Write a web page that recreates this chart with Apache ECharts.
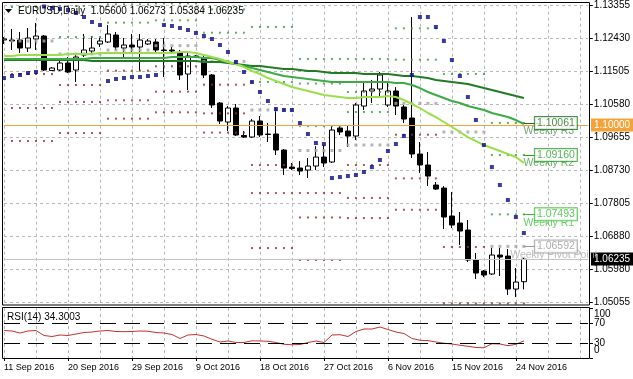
<!DOCTYPE html>
<html><head><meta charset="utf-8">
<script src="https://cdn.jsdelivr.net/npm/echarts@6/dist/echarts.min.js"></script>
<style>html,body{margin:0;padding:0;background:#fff}#c{width:633px;height:379px}</style>
</head><body><div id="c"></div>
<script>
const dates = [
'2016.09.11','2016.09.12','2016.09.13','2016.09.14','2016.09.15','2016.09.16',
'2016.09.18','2016.09.19','2016.09.20','2016.09.21','2016.09.22','2016.09.23',
'2016.09.25','2016.09.26','2016.09.27','2016.09.28','2016.09.29','2016.09.30',
'2016.10.02','2016.10.03','2016.10.04','2016.10.05','2016.10.06','2016.10.07',
'2016.10.09','2016.10.10','2016.10.11','2016.10.12','2016.10.13','2016.10.14',
'2016.10.16','2016.10.17','2016.10.18','2016.10.19','2016.10.20','2016.10.21',
'2016.10.23','2016.10.24','2016.10.25','2016.10.26','2016.10.27','2016.10.28',
'2016.10.30','2016.10.31','2016.11.01','2016.11.02','2016.11.03','2016.11.04',
'2016.11.06','2016.11.07','2016.11.08','2016.11.09','2016.11.10','2016.11.11',
'2016.11.13','2016.11.14','2016.11.15','2016.11.16','2016.11.17','2016.11.18',
'2016.11.20','2016.11.21','2016.11.22','2016.11.23','2016.11.24','2016.11.25'];

// [open, high, low, close]
const ohlc = [
[1.12391,1.12475,1.12279,1.12419],[1.12391,1.12700,1.12110,1.12363],[1.12391,1.12616,1.12026,1.12166],
[1.12166,1.12728,1.12054,1.12447],[1.12419,1.12869,1.12110,1.12503],[1.12503,1.12531,1.11520,1.11548],
[1.11534,1.11632,1.11520,1.11604],[1.11548,1.11857,1.11520,1.11745],[1.11745,1.11913,1.11464,1.11492],
[1.11548,1.11970,1.11211,1.11913],[1.11970,1.12560,1.11913,1.12110],[1.12082,1.12503,1.11970,1.12166],
[1.12279,1.12447,1.12194,1.12363],[1.12335,1.12812,1.12307,1.12560],[1.12531,1.12616,1.12110,1.12194],
[1.12166,1.12447,1.11885,1.12251],[1.12251,1.12560,1.12026,1.12194],[1.12194,1.12560,1.11520,1.12391],
[1.12279,1.12419,1.12251,1.12363],[1.12335,1.12419,1.12054,1.12110],[1.12110,1.12447,1.11351,1.12096],
[1.12110,1.12194,1.11998,1.12082],[1.12026,1.12110,1.11267,1.11408],[1.11436,1.12026,1.10986,1.11941],
[1.11913,1.11970,1.11885,1.11941],[1.11885,1.11970,1.11323,1.11408],[1.11408,1.11436,1.10480,1.10565],
[1.10621,1.10649,1.10031,1.10115],[1.10087,1.10536,1.09834,1.10480],[1.10480,1.10593,1.09693,1.09722],
[1.09708,1.09834,1.09637,1.09665],[1.09665,1.10171,1.09637,1.10115],[1.10115,1.10255,1.09665,1.09722],
[1.09750,1.10059,1.09525,1.09736],[1.09750,1.10480,1.09160,1.09300],[1.09300,1.09328,1.08598,1.08794],
[1.08822,1.08935,1.08738,1.08780],[1.08794,1.08991,1.08598,1.08710],[1.08738,1.09075,1.08513,1.08850],
[1.08850,1.09412,1.08738,1.09103],[1.09103,1.09440,1.08822,1.08935],[1.08963,1.10003,1.08935,1.09862],
[1.09918,1.09975,1.09722,1.09806],[1.09834,1.10003,1.09384,1.09693],[1.09693,1.10621,1.09581,1.10565],
[1.10536,1.11211,1.10424,1.10958],[1.10958,1.11267,1.10621,1.11014],[1.11014,1.11492,1.10817,1.11408],
[1.10565,1.11183,1.10508,1.10958],[1.10958,1.11068,1.10284,1.10536],[1.10508,1.10565,1.10059,1.10171],
[1.10199,1.13037,1.09075,1.09188],[1.09188,1.09525,1.08654,1.08879],[1.08879,1.09244,1.08288,1.08569],
[1.08317,1.08401,1.08176,1.08204],[1.08232,1.08288,1.07080,1.07417],[1.07445,1.08120,1.07108,1.07193],
[1.07249,1.07558,1.06631,1.07024],[1.07052,1.07333,1.06153,1.06209],[1.06209,1.06406,1.05675,1.05844],
[1.05900,1.05928,1.05731,1.05788],[1.05816,1.06546,1.05788,1.06350],[1.06350,1.06546,1.05759,1.06293],
[1.06321,1.06518,1.05226,1.05394],[1.05394,1.05984,1.05169,1.05591],[1.05600,1.06273,1.05384,1.06235]];

const maFast = [1.11941,1.11941,1.11970,1.11970,1.11970,1.11970,1.11970,1.11970,1.11998,1.11998,
1.11998,1.11998,1.12026,1.12026,1.12026,1.12026,1.12026,1.12026,1.12026,1.12026,
1.12026,1.12026,1.12054,1.12054,1.12026,1.11970,1.11913,1.11857,1.11773,1.11717,
1.11632,1.11520,1.11436,1.11323,1.11239,1.11155,1.11070,1.11014,1.10958,1.10902,
1.10846,1.10817,1.10789,1.10761,1.10761,1.10789,1.10789,1.10789,1.10817,1.10789,
1.10705,1.10593,1.10480,1.10340,1.10227,1.10087,1.09948,1.09806,1.09665,1.09553,
1.09440,1.09356,1.09272,1.09188,1.09103,1.08935];

const maMid = [1.11857,1.11857,1.11857,1.11857,1.11857,1.11857,1.11857,1.11857,1.11857,1.11857,1.11857,
1.11885,1.11885,1.11885,1.11885,1.11885,1.11885,1.11885,1.11885,1.11885,1.11885,
1.11913,1.11913,1.11913,1.11913,
1.11885,1.11885,1.11829,1.11773,1.11717,1.11661,1.11604,1.11548,1.11492,1.11436,1.11379,1.11351,1.11323,1.11295,1.11267,1.11239,
1.11211,1.11211,1.11211,1.11211,1.11211,1.11211,1.11211,1.11211,
1.11183,1.11183,1.11127,1.11042,1.10930,1.10846,1.10761,1.10677,1.10621,1.10536,1.10480,1.10424,1.10340,1.10284,1.10227,1.10143,1.10031];

const maSlow = [1.11829,1.11829,1.11829,1.11829,1.11829,1.11829,1.11829,1.11829,1.11829,1.11829,1.11829,
1.11801,1.11801,1.11801,1.11801,1.11801,1.11801,1.11801,1.11801,1.11801,1.11801,1.11801,1.11801,1.11801,1.11801,
1.11773,1.11773,1.11773,
1.11745,1.11717,1.11689,1.11661,1.11661,1.11632,1.11604,1.11576,1.11576,1.11548,1.11520,1.11520,1.11492,
1.11464,1.11464,1.11464,1.11464,1.11436,1.11436,1.11436,1.11436,
1.11408,1.11379,1.11379,1.11351,1.11323,1.11267,1.11239,1.11211,1.11183,1.11155,1.11098,1.11042,1.10986,1.10930,1.10874,1.10817,1.10761];

const sar = [1.11323,1.11379,1.11408,1.11464,1.11492,1.13332,1.13290,1.13262,1.13234,1.13150,
1.13037,1.12897,1.12812,1.11239,1.11295,1.11323,1.11351,1.11351,1.11379,1.11408,
1.12812,1.12784,1.12728,1.12672,1.12588,1.12503,1.12419,1.12251,1.12054,1.11773,
1.11492,1.11211,1.10930,1.10677,1.10452,1.10424,1.10424,1.10059,1.09750,1.09497,
1.09469,1.08513,1.08541,1.08569,1.08598,1.08682,1.08822,1.09019,1.09272,1.09469,
1.09693,1.11408,1.13037,1.13037,1.12756,1.12363,1.11829,1.11379,1.10789,1.10143,
1.09440,1.08822,1.08317,1.07895,1.07417,1.06968];

const rsi = [55,54,50,54,55,45,43,46,45,48,
51,52,54,55,53,52.6,53,54,53.5,51,
50,47,39,46,47,44,37.5,32,34,31,
31,34.5,34,33.5,31,27.5,26.5,27,31,34,
31,46,46.6,43,53,58,58,62,57,52,
49,39,35.5,34.8,32,29.5,28,25.5,23.5,21,
20.5,28.6,28,24.6,27.5,34.3003];

// weekly pivot groups (bar index ranges)
const weekStart = [1,7,13,19,25,31,37,43,49,55,61];
const weekEnd   = [6,12,18,24,30,36,42,48,54,60,65];
const pivotP  = [1.12363,1.11998,1.12110,1.12232,1.11791,1.10424,1.09286,1.09441,1.10611,1.09806,1.06592];
const pivotR1 = [1.13319,1.12476,1.12879,1.12944,1.12596,1.11211,1.09974,1.10369,1.11838,1.11436,1.07493];
const pivotR2 = [null,1.13347,1.13394,1.13420,1.13252,1.12757,1.11168,1.10931,1.12719,null,1.09160];
const pivotR3 = [null,null,null,null,null,null,1.11856,1.11859,null,null,1.10061];
const pivotS1 = [1.11436,1.11127,1.11530,1.11652,1.11135,1.08878,1.08092,1.08879,1.09730,1.06575,1.04990];
const pivotS2 = [1.10480,1.10649,1.10696,1.10940,1.10330,1.08091,1.07404,1.07951,1.08503,1.04990,null];
const pivotS3 = [1.09553,1.09778,1.10181,1.10360,1.09790,1.06545,1.06210,1.07389,1.07622,null,null];

const priceTickLabels = ['1.05055','1.05980','1.06880','1.07805','1.08730','1.09655','1.10580','1.11505','1.12430','1.13355'];
const dateTickLabels = ['11 Sep 2016','20 Sep 2016','29 Sep 2016','9 Oct 2016','18 Oct 2016','27 Oct 2016','6 Nov 2016','15 Nov 2016','24 Nov 2016'];
const rsiLevelLabels = [70, 30];
const rsiEdgeLabels = [100, 0];
const roundLevel = 1.10000;

// ---------- build ----------
const FONT = 'Liberation Sans';
const categories = dates.concat(Array.from({length: 8}, (_, k) => 'pad' + k));
const nBars = dates.length;
const last = ohlc[nBars - 1];
const candleData = ohlc.map(r => [r[0], r[3], r[2], r[1]]);
const yMin = 1.0503, yMax = 1.13355, yStep = 0.00925;

function levelPoints(levels) {
  const pts = [];
  levels.forEach((v, g) => {
    if (v == null) return;
    for (let i = weekStart[g]; i <= weekEnd[g]; i++) pts.push([i, v]);
  });
  return pts;
}
const cur = weekStart.length - 1;
const curLabels = [
  {name: 'Weekly R3', v: pivotR3[cur], box: '#1f6f1f', txt: '#4f8f4f'},
  {name: 'Weekly R2', v: pivotR2[cur], box: '#2c9c2c', txt: '#3f9f3f'},
  {name: 'Weekly R1', v: pivotR1[cur], box: '#33bb33', txt: '#44bb44'},
  {name: 'Weekly Pivot Point', v: pivotP[cur], box: '#999999', txt: '#aaaaaa'}
];
const gridDash = {color: '#b8b8b8', type: [3, 3], width: 1};
const lbl = {fontSize: 10, color: '#000', margin: 4, fontFamily: FONT};

const chart = echarts.init(document.getElementById('c'), null, {renderer: 'canvas'});
chart.setOption({
  animation: false,
  backgroundColor: '#fff',
  textStyle: {fontFamily: FONT},
  grid: [
    {left: 4, top: 5.7, width: 584, height: 296.3},
    {left: 4, top: 308, width: 584, height: 50}
  ],
  xAxis: [
    {type: 'category', gridIndex: 0, data: categories, boundaryGap: false,
     axisLine: {show: false}, axisTick: {show: false}, axisLabel: {show: false},
     splitLine: {show: true, interval: (i) => i % 4 === 0, lineStyle: gridDash}},
    {type: 'category', gridIndex: 1, data: categories, boundaryGap: false,
     axisLine: {show: false},
     axisTick: {show: true, interval: (i) => i % 8 === 0 && i < nBars, length: 3, lineStyle: {color: '#000'}},
     axisLabel: {show: true, interval: (i) => i % 8 === 0 && i < nBars,
       formatter: (v, i) => dateTickLabels[i / 8] || '', align: 'left', fontSize: 9, color: '#000', margin: 5, fontFamily: FONT},
     splitLine: {show: true, interval: (i) => i % 4 === 0, lineStyle: gridDash}}
  ],
  yAxis: [
    {type: 'value', gridIndex: 0, position: 'right', offset: 2, min: yMin, max: yMax, interval: yStep,
     axisLine: {show: false}, axisTick: {show: true, length: 3, lineStyle: {color: '#000'}},
     axisLabel: Object.assign({}, lbl, {formatter: v => priceTickLabels[Math.round((v - yMin) / yStep)] || ''}),
     splitLine: {show: true, lineStyle: gridDash}},
    {type: 'value', gridIndex: 1, position: 'right', offset: 2, min: 0, max: 100, interval: 10,
     axisLine: {show: false},
     axisTick: {show: true, length: 3, customValues: [0, 30, 70, 100], lineStyle: {color: '#000'}},
     axisLabel: Object.assign({}, lbl, {customValues: rsiLevelLabels}),
     splitLine: {show: false}}
  ],
  series: [
    {type: 'candlestick', name: 'EURUSD', xAxisIndex: 0, yAxisIndex: 0, data: candleData, barWidth: 5, clip: false, z: 2,
     itemStyle: {color: '#ffffff', color0: '#000000', borderColor: '#000000', borderColor0: '#000000', borderWidth: 1}},
    {type: 'scatter', name: 'R', xAxisIndex: 0, yAxisIndex: 0, symbol: 'rect', symbolSize: 2, clip: false, z: 3,
     itemStyle: {color: '#3a9a3a'}, data: levelPoints(pivotR1).concat(levelPoints(pivotR2), levelPoints(pivotR3))},
    {type: 'scatter', name: 'S', xAxisIndex: 0, yAxisIndex: 0, symbol: 'rect', symbolSize: 2, clip: false, z: 3,
     itemStyle: {color: '#8e3030'}, data: levelPoints(pivotS1).concat(levelPoints(pivotS2), levelPoints(pivotS3))},
    {type: 'scatter', name: 'P', xAxisIndex: 0, yAxisIndex: 0, symbol: 'rect', symbolSize: 3, clip: false, z: 3,
     itemStyle: {color: '#a4a4a4'}, data: levelPoints(pivotP)},
    {type: 'line', name: 'MA slow', xAxisIndex: 0, yAxisIndex: 0, data: maSlow, symbol: 'none', z: 4,
     lineStyle: {color: '#227a22', width: 2}},
    {type: 'line', name: 'MA mid', xAxisIndex: 0, yAxisIndex: 0, data: maMid, symbol: 'none', z: 4,
     lineStyle: {color: '#3daa46', width: 2}},
    {type: 'line', name: 'MA fast', xAxisIndex: 0, yAxisIndex: 0, data: maFast, symbol: 'none', z: 4,
     lineStyle: {color: '#9ade4c', width: 2}},
    {type: 'scatter', name: 'SAR', xAxisIndex: 0, yAxisIndex: 0, symbol: 'rect', symbolSize: 4, clip: false, z: 5,
     itemStyle: {color: '#0a0a80'}, data: sar.map((v, i) => [i, v])},
    {type: 'scatter', name: 'pivot names', xAxisIndex: 0, yAxisIndex: 0, symbolSize: 0, clip: false, z: 6,
     data: curLabels.map(l => ({value: [68, l.v],
       label: {show: true, position: 'inside', formatter: l.name, color: l.txt, fontSize: 10.5, fontFamily: FONT,
               offset: [l.name.length > 10 ? 6 : 1, 8.5]}}))},
    {type: 'scatter', name: 'pivot boxes', xAxisIndex: 0, yAxisIndex: 0, symbolSize: 0, clip: false, z: 7,
     data: curLabels.map(l => ({value: [69, l.v],
       label: {show: true, position: 'inside', formatter: l.v.toFixed(5), color: l.box, fontSize: 10.5, fontFamily: FONT,
               backgroundColor: '#fff', borderColor: l.box, borderWidth: 1, padding: [1, 2, 0, 2]}})),
     markLine: {silent: true, symbol: ['none', 'none'], label: {show: false}, animation: false,
       data: curLabels.map(l => [{coord: [nBars - 1, l.v], lineStyle: {color: l.box, width: 1, type: 'solid'}}, {coord: [nBars + 1, l.v]}])
         .concat([
           [{yAxis: roundLevel, x: 4, lineStyle: {color: '#f2a33a', width: 1, type: 'solid'},
             label: {show: true, position: 'end', distance: 3, formatter: roundLevel.toFixed(5), color: '#fff', backgroundColor: '#f2a33a',
                     fontSize: 10, fontFamily: FONT, padding: [2, 6, 1, 3]}},
            {yAxis: roundLevel, x: 588}],
           [{yAxis: last[3], x: 4, lineStyle: {color: '#c4c4c4', width: 1, type: 'solid'},
             label: {show: true, position: 'end', distance: 3, formatter: last[3].toFixed(5), color: '#fff', backgroundColor: '#000',
                     fontSize: 10, fontFamily: FONT, padding: [2, 6, 1, 3]}},
            {yAxis: last[3], x: 588}]
         ])}},
    {type: 'line', name: 'RSI(14)', xAxisIndex: 1, yAxisIndex: 1, data: rsi, symbol: 'none', z: 3,
     lineStyle: {color: '#c03434', width: 1},
     markLine: {silent: true, symbol: ['none', 'none'], label: {show: false}, animation: false,
       lineStyle: {color: '#000', type: [16, 8], width: 1},
       data: [{yAxis: 70}, {yAxis: 30}]}}
  ],
  graphic: [
    {id: 'edgeL', type: 'rect', z: 99, silent: true, shape: {x: 0, y: 0, width: 2, height: 379}, style: {fill: '#fff'}},
    {id: 'frameMain', type: 'rect', z: 100, silent: true, shape: {x: 2.5, y: 2.5, width: 587, height: 302.5}, style: {fill: 'none', stroke: '#000', lineWidth: 1}},
    {id: 'frameRsi', type: 'rect', z: 100, silent: true, shape: {x: 2.5, y: 307.5, width: 587, height: 51}, style: {fill: 'none', stroke: '#000', lineWidth: 1}},
    {id: 'tri', type: 'polygon', z: 101, silent: true, shape: {points: [[5, 9], [12, 9], [8.5, 13]]}, style: {fill: '#000'}},
    {id: 'hdr', type: 'text', z: 101, silent: true,
     style: {x: 18, y: 6, text: 'EURUSD,Daily  ' + [last[0], last[1], last[2], last[3]].map(v => v.toFixed(5)).join(' '),
             font: '10px "' + FONT + '"', fill: '#000', verticalAlign: 'top', textVerticalAlign: 'top'}},
    {id: 'rsiHdr', type: 'text', z: 101, silent: true,
     style: {x: 7, y: 312, text: 'RSI(14) ' + rsi[rsi.length - 1].toFixed(4),
             font: '10px "' + FONT + '"', fill: '#000', verticalAlign: 'top', textVerticalAlign: 'top'}}
  ]
});

// MetaTrader draws the 100 / 0 captions of the RSI window just inside its edges
const edgeText = rsiEdgeLabels.map(v => {
  const py = chart.convertToPixel({yAxisIndex: 1}, v);
  return {id: 'rsiEdge' + v, type: 'text', z: 101, silent: true,
    style: {x: 594, y: py + (v === 100 ? 6.5 : -7.5), text: String(v), font: '10px "' + FONT + '"', fill: '#000',
            verticalAlign: 'middle', textVerticalAlign: 'middle'}};
});
chart.setOption({graphic: edgeText});
</script></body></html>
